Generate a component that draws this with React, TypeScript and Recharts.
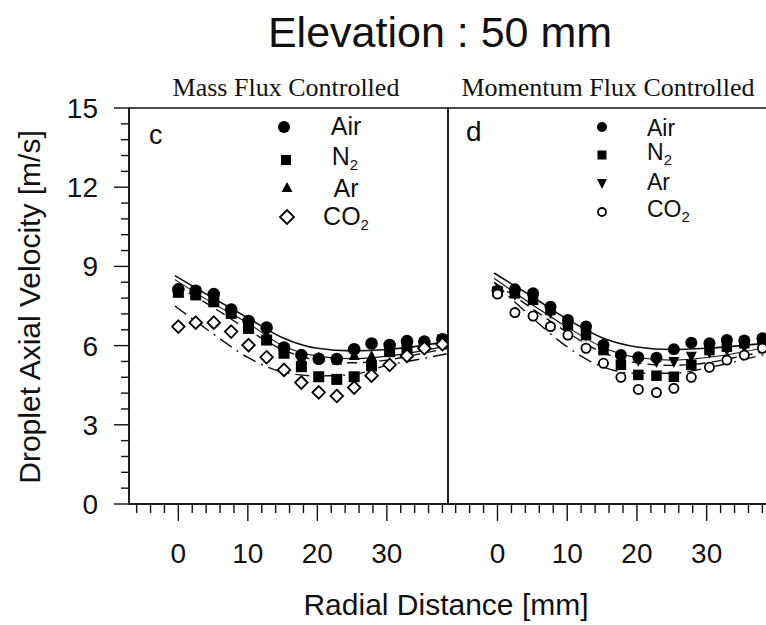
import React from "react";
import {
  ComposedChart, Line, Scatter, XAxis, YAxis, ReferenceArea, Legend,
} from "recharts";

const SANS = '"Liberation Sans", Arial, Helvetica, sans-serif';
const SERIF = '"Liberation Serif", "Times New Roman", serif';

// radial positions of the measurements (mm)
const radius = [0, 2.5, 5.1, 7.6, 10.1, 12.7, 15.2, 17.7, 20.2, 22.8, 25.3, 27.8, 30.4, 32.9, 35.4, 38];

// panel c : mass flux controlled (m/s)
const airC = [8.13, 8.08, 7.95, 7.37, 6.93, 6.68, 5.93, 5.64, 5.5, 5.49, 5.86, 6.08, 6.02, 6.17, 6.15, 6.24];
const n2C = [8.02, 7.92, 7.66, 7.22, 6.65, 6.21, 5.71, 5.2, 4.82, 4.72, 4.82, 5.23, 5.77, 5.9, 6.02, 6.21];
const arC = [8.0, 7.95, 7.8, 7.3, 6.8, 6.4, 5.85, 5.5, 5.52, 5.45, 5.62, 5.58, 5.75, 5.9, 6.05, 6.15];
const co2C = [6.72, 6.87, 6.87, 6.53, 6.02, 5.56, 5.08, 4.6, 4.23, 4.09, 4.41, 4.86, 5.27, 5.61, 5.9, 6.05];

// panel d : momentum flux controlled (m/s)
const airD = [8.08, 8.13, 7.98, 7.47, 6.97, 6.72, 6.02, 5.64, 5.56, 5.54, 5.86, 6.11, 6.09, 6.21, 6.19, 6.28];
const n2D = [8.05, 7.98, 7.73, 7.35, 6.78, 6.4, 5.83, 5.27, 4.89, 4.86, 4.82, 5.27, 5.83, 5.96, 6.09, 6.21];
const arD = [8.05, 7.95, 7.75, 7.25, 6.75, 6.4, 5.9, 5.45, 5.45, 5.4, 5.4, 5.6, 5.75, 5.85, 5.95, 6.05];
const co2D = [7.95, 7.25, 7.12, 6.72, 6.4, 5.9, 5.33, 4.8, 4.34, 4.22, 4.38, 4.8, 5.18, 5.45, 5.64, 5.9];

// fitted curves, read at a few radii
const fitR = [-0.5, 5, 10, 15, 20, 25, 30, 35, 38.8];
const fitAirC = [8.65, 7.8, 7.05, 6.3, 5.9, 5.8, 5.85, 6.0, 6.15];
const fitArC = [8.5, 7.6, 6.85, 6.0, 5.6, 5.5, 5.6, 5.8, 6.0];
const fitN2C = [8.3, 7.45, 6.6, 5.85, 5.45, 5.35, 5.45, 5.7, 5.9];
const fitCo2C = [7.5, 6.45, 5.55, 5.0, 4.85, 4.9, 5.25, 5.5, 5.7];
const fitAirD = [8.75, 7.85, 7.0, 6.3, 5.95, 5.85, 5.9, 6.0, 6.1];
const fitArD = [8.55, 7.55, 6.7, 5.95, 5.55, 5.45, 5.55, 5.75, 5.95];
const fitN2D = [8.4, 7.4, 6.5, 5.75, 5.35, 5.25, 5.35, 5.6, 5.8];
const fitCo2D = [8.4, 7.05, 5.95, 5.2, 4.95, 4.95, 5.15, 5.45, 5.7];

const xMajor = [0, 10, 20, 30];
const yMajor = [0, 3, 6, 9, 12, 15];
const xTicks = Array.from({ length: 23 }, (_, i) => -6 + 2 * i);
const yTicks = Array.from({ length: 26 }, (_, i) => Math.round(i * 6) / 10);

const pts = (xs: number[], ys: number[]) => xs.map((r, i) => ({ r, v: ys[i] }));

function XTick(props: any) {
  const { x, y, payload } = props;
  const major = xMajor.includes(payload.value);
  return (
    <g>
      <line x1={x} x2={x} y1={y} y2={y + (major ? 17 : 9)} stroke="#111" strokeWidth={1.4} />
      {major && (
        <text x={x} y={y + 59} textAnchor="middle" fontSize={28} fontFamily={SANS} fill="#111">{payload.value}</text>
      )}
    </g>
  );
}

function YTick(props: any) {
  const { x, y, payload } = props;
  const major = yMajor.includes(payload.value);
  return (
    <g>
      <line x1={x} x2={x - (major ? 15 : 8)} y1={y} y2={y} stroke="#111" strokeWidth={1.4} />
      {major && (
        <text x={x - 31} y={y} dy="0.36em" textAnchor="end" fontSize={28} fontFamily={SANS} fill="#111">{payload.value}</text>
      )}
    </g>
  );
}

const dot = (r: number) => (p: any) => <circle cx={p.cx} cy={p.cy} r={r} fill="#000" />;
const square = (s: number) => (p: any) => <rect x={p.cx - s / 2} y={p.cy - s / 2} width={s} height={s} fill="#000" />;
const triUp = (s: number) => (p: any) => (
  <polygon points={`${p.cx},${p.cy - s * 0.6} ${p.cx - s / 2},${p.cy + s * 0.4} ${p.cx + s / 2},${p.cy + s * 0.4}`} fill="#000" />
);
const triDown = (s: number) => (p: any) => (
  <polygon points={`${p.cx},${p.cy + s * 0.6} ${p.cx - s / 2},${p.cy - s * 0.4} ${p.cx + s / 2},${p.cy - s * 0.4}`} fill="#000" />
);
const diamond = (s: number) => (p: any) => (
  <polygon points={`${p.cx},${p.cy - s} ${p.cx + s},${p.cy} ${p.cx},${p.cy + s} ${p.cx - s},${p.cy}`} fill="#fff" stroke="#000" strokeWidth={1.8} />
);
const ring = (r: number) => (p: any) => <circle cx={p.cx} cy={p.cy} r={r} fill="#fff" stroke="#000" strokeWidth={1.8} />;

function LegendC() {
  const t = { fontSize: 25, fontFamily: SANS, fill: "#111" };
  return (
    <svg width={190} height={130}>
      <circle cx={24} cy={19} r={6} fill="#000" />
      <rect x={21} y={47} width={10} height={10} fill="#000" />
      <polygon points="27,74 21.5,84 32.5,84" fill="#000" />
      <polygon points="27,102 34,109 27,116 20,109" fill="#fff" stroke="#000" strokeWidth={1.8} />
      <text x={86} y={27} textAnchor="middle" {...t}>Air</text>
      <text x={85} y={57} textAnchor="middle" {...t}>N<tspan fontSize={15} dy={5}>2</tspan></text>
      <text x={86} y={89} textAnchor="middle" {...t}>Ar</text>
      <text x={86} y={117} textAnchor="middle" {...t}>CO<tspan fontSize={15} dy={5}>2</tspan></text>
    </svg>
  );
}

function LegendD() {
  const t = { fontSize: 23, fontFamily: SANS, fill: "#111" };
  return (
    <svg width={160} height={125}>
      <circle cx={22} cy={19} r={5} fill="#000" />
      <rect x={17.5} y={42.5} width={9} height={9} fill="#000" />
      <polygon points="22,81 17,71 27,71" fill="#000" />
      <circle cx={22} cy={104} r={4} fill="#fff" stroke="#000" strokeWidth={1.8} />
      <text x={67} y={28} {...t}>Air</text>
      <text x={67} y={52} {...t}>N<tspan fontSize={15} dy={5}>2</tspan></text>
      <text x={67} y={82} {...t}>Ar</text>
      <text x={67} y={109} {...t}>CO<tspan fontSize={15} dy={5}>2</tspan></text>
    </svg>
  );
}

type PanelProps = {
  width: number;
  left: number;
  showY: boolean;
  air: number[]; n2: number[]; ar: number[]; co2: number[];
  fAir: number[]; fAr: number[]; fN2: number[]; fCo2: number[];
  momentum: boolean;
};

function Panel(p: PanelProps) {
  return (
    <ComposedChart width={p.width} height={625} margin={{ top: 108, right: 12, left: p.left, bottom: 61 }}>
      <XAxis
        dataKey="r" type="number" domain={[-7.1, 38.8]} allowDataOverflow ticks={xTicks} interval={0}
        tick={<XTick />} tickSize={0} tickMargin={0} tickLine={false} height={60}
        axisLine={{ stroke: "#111", strokeWidth: 1.5 }}
      />
      <YAxis
        type="number" domain={[0, 15]} allowDataOverflow ticks={yTicks} interval={0} hide={!p.showY}
        tick={<YTick />} tickSize={0} tickMargin={0} tickLine={false} width={129}
        axisLine={{ stroke: "#111", strokeWidth: 1.5 }}
      />
      <ReferenceArea x1={-7.1} x2={38.8} y1={0} y2={15} fill="none" stroke="#111" strokeWidth={1.5} />
      <Line data={pts(fitR, p.fAir)} dataKey="v" type="monotone" stroke="#111" strokeWidth={1.6} dot={false} activeDot={false} isAnimationActive={false} />
      <Line data={pts(fitR, p.fAr)} dataKey="v" type="monotone" stroke="#111" strokeWidth={1.1} dot={false} activeDot={false} isAnimationActive={false} />
      <Line data={pts(fitR, p.fN2)} dataKey="v" type="monotone" stroke="#111" strokeWidth={1.4} strokeDasharray="10 6" dot={false} activeDot={false} isAnimationActive={false} />
      <Line data={pts(fitR, p.fCo2)} dataKey="v" type="monotone" stroke="#111" strokeWidth={1.4} strokeDasharray="14 6 2 6" dot={false} activeDot={false} isAnimationActive={false} />
      <Scatter data={pts(radius, p.n2)} dataKey="v" shape={square(p.momentum ? 10.5 : 11)} isAnimationActive={false} />
      <Scatter data={pts(radius, p.ar)} dataKey="v" shape={p.momentum ? triDown(11) : triUp(11)} isAnimationActive={false} />
      <Scatter data={pts(radius, p.air)} dataKey="v" shape={dot(p.momentum ? 6 : 6.3)} isAnimationActive={false} />
      <Scatter data={pts(radius, p.co2)} dataKey="v" shape={p.momentum ? ring(4.6) : diamond(6.3)} isAnimationActive={false} />
      <Legend
        layout="horizontal" verticalAlign="middle" align="center"
        wrapperStyle={p.momentum ? { left: 140, top: 108, width: 160, height: 125 } : { left: 260, top: 108, width: 190, height: 130 }}
        content={() => (p.momentum ? <LegendD /> : <LegendC />)}
      />
    </ComposedChart>
  );
}

export default function App() {
  return (
    <div style={{ position: "absolute", left: 0, top: 0, width: 766, height: 625, overflow: "hidden", background: "#fff" }}>
      <svg width={766} height={625} style={{ position: "absolute", left: 0, top: 0 }}>
        <text x={440} y={47} textAnchor="middle" fontSize={43} fontFamily={SANS} fill="#111">Elevation : 50 mm</text>
        <text x={286} y={96} textAnchor="middle" fontSize={26} fontFamily={SERIF} fill="#111">Mass Flux Controlled</text>
        <text x={608} y={96} textAnchor="middle" fontSize={26} fontFamily={SERIF} fill="#111">Momentum Flux Controlled</text>
        <text x={149} y={144} fontSize={27} fontFamily={SANS} fill="#111">c</text>
        <text x={466} y={141} fontSize={28} fontFamily={SANS} fill="#111">d</text>
        <text x={446} y={615} textAnchor="middle" fontSize={30} fontFamily={SANS} fill="#111">Radial Distance [mm]</text>
        <text x={0} y={0} transform="translate(40,307) rotate(-90)" textAnchor="middle" fontSize={30} fontFamily={SANS} fill="#111">Droplet Axial Velocity [m/s]</text>
      </svg>
      <div style={{ position: "absolute", left: 0, top: 0 }}>
        <Panel width={460} left={0} showY air={airC} n2={n2C} ar={arC} co2={co2C}
          fAir={fitAirC} fAr={fitArC} fN2={fitN2C} fCo2={fitCo2C} momentum={false} />
      </div>
      <div style={{ position: "absolute", left: 440, top: 0 }}>
        <Panel width={340} left={8} showY={false} air={airD} n2={n2D} ar={arD} co2={co2D}
          fAir={fitAirD} fAr={fitArD} fN2={fitN2D} fCo2={fitCo2D} momentum />
      </div>
    </div>
  );
}
